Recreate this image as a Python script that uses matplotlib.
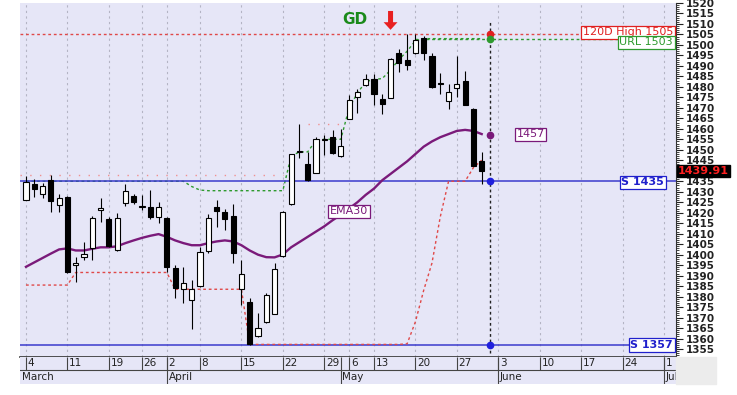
import numpy as np
import matplotlib.pyplot as plt

# daily candles (trading-day index 0 = 4 March)
opens = [1426.3, 1433.6, 1428.7, 1435.5, 1423.9, 1427.5, 1395.0, 1398.8, 1403.4, 1421.2,
         1417.2, 1402.1, 1424.4, 1427.9, 1422.5, 1422.8, 1418.0, 1417.7, 1393.4, 1383.7,
         1378.3, 1385.0, 1401.8, 1422.5, 1420.4, 1418.5, 1383.6, 1377.2, 1361.3, 1368.0,
         1371.7, 1399.3, 1424.0, 1449.0, 1443.1, 1439.0, 1454.5, 1456.1, 1446.9, 1464.9,
         1475.1, 1481.0, 1483.9, 1474.4, 1474.9, 1496.3, 1492.6, 1496.3, 1503.4, 1494.5,
         1481.8, 1473.1, 1479.6, 1482.8, 1469.6, 1444.7]
highs = [1437.5, 1436.3, 1434.4, 1437.9, 1429.1, 1428.0, 1399.0, 1406.0, 1418.2, 1427.0,
         1418.0, 1419.9, 1433.6, 1429.0, 1428.3, 1431.0, 1425.1, 1418.0, 1395.3, 1394.2,
         1388.0, 1403.7, 1419.6, 1426.0, 1422.0, 1424.0, 1397.4, 1379.1, 1372.0, 1381.5,
         1395.8, 1420.6, 1448.2, 1462.5, 1449.0, 1456.0, 1456.9, 1459.6, 1460.1, 1476.0,
         1479.0, 1486.3, 1486.3, 1476.4, 1493.6, 1498.2, 1505.0, 1505.0, 1504.5, 1496.3,
         1486.6, 1481.2, 1494.5, 1487.4, 1470.0, 1449.0]
lows = [1426.0, 1427.5, 1427.0, 1420.4, 1420.4, 1391.2, 1386.8, 1397.4, 1397.6, 1415.6,
        1403.8, 1401.8, 1423.1, 1424.2, 1421.2, 1416.8, 1414.9, 1391.8, 1379.1, 1377.0,
        1364.7, 1384.7, 1400.9, 1413.2, 1411.7, 1396.1, 1376.0, 1357.0, 1360.8, 1367.5,
        1371.5, 1399.0, 1423.8, 1446.0, 1435.0, 1438.7, 1447.4, 1448.2, 1446.5, 1464.5,
        1467.5, 1480.5, 1471.2, 1467.2, 1474.5, 1487.0, 1488.2, 1495.8, 1492.6, 1479.5,
        1476.4, 1469.6, 1475.1, 1471.2, 1442.1, 1433.9]
closes = [1434.7, 1431.2, 1432.8, 1425.6, 1427.1, 1391.5, 1395.8, 1400.1, 1417.7, 1422.3,
          1404.0, 1417.7, 1430.4, 1425.1, 1423.1, 1418.0, 1422.5, 1393.9, 1383.9, 1386.6,
          1383.4, 1401.3, 1417.7, 1420.6, 1416.9, 1400.9, 1390.6, 1357.4, 1365.2, 1381.0,
          1393.0, 1420.4, 1447.9, 1449.5, 1435.5, 1455.0, 1455.3, 1448.7, 1451.7, 1473.6,
          1477.5, 1483.9, 1476.4, 1472.0, 1493.4, 1491.5, 1490.6, 1502.5, 1496.3, 1479.9,
          1481.2, 1477.5, 1481.2, 1471.5, 1442.1, 1439.91]

ema30 = [1394.2, 1396.3, 1398.4, 1400.5, 1402.5, 1403.0, 1402.0, 1402.0, 1402.8, 1403.5,
         1403.5, 1404.0, 1405.5, 1406.8, 1408.0, 1409.0, 1409.8, 1408.5, 1406.8, 1405.5,
         1404.5, 1404.5, 1405.5, 1406.3, 1406.8, 1406.3, 1404.5, 1402.0, 1400.0, 1398.8,
         1398.7, 1400.1, 1403.5, 1406.0, 1408.5, 1411.0, 1413.5, 1416.4, 1419.0, 1422.0,
         1425.0, 1428.5, 1431.5, 1435.5, 1438.5, 1441.5, 1444.5, 1448.0, 1451.5, 1454.0,
         1456.0, 1457.5, 1459.0, 1459.5, 1459.0, 1457.5]

upper_trail = [1435.0] * 20 + [1432.5, 1430.8] + [1430.5] * 10 + \
    [1447.0, 1449.0, 1449.0, 1454.5, 1455.0, 1455.0, 1455.0, 1470.0, 1477.0, 1482.5,
     1483.5, 1484.0, 1488.0, 1493.0, 1497.0, 1502.0] + [1503.0] * 8
lower_trail = [1385.5] * 6 + [1391.5] * 12 + [1383.5] * 9 + [1357.2] * 19 + \
    [1357.5, 1368.0, 1383.0, 1396.0, 1418.0, 1435.0, 1435.0, 1435.0, 1441.5, 1445.0]

high_120d = 1505
url_level = 1503
supports = [1435, 1357]
ema_last = 1457
last_close = 1439.91
now_idx = 56

week_idx = [0, 5, 10, 14, 17, 21, 26, 31, 36, 39, 42, 47, 52, 57, 62, 67, 72, 77]
week_lbl = ["4", "11", "19", "26", "2", "8", "15", "22", "29", "6", "13", "20", "27",
            "3", "10", "17", "24", "1"]
month_idx = [-0.72, 17, 38, 57, 77]
month_lbl = ["March", "April", "May", "June", "July"]

W, H = 737, 395
bg = "#e6e6f7"
fig = plt.figure(figsize=(W / 100, H / 100), dpi=100)
ax = fig.add_axes([20 / W, (H - 357) / H, 656 / W, 354 / H])
axd = fig.add_axes([20 / W, (H - 384) / H, 656 / W, 27 / H])
fig.patches.append(plt.Rectangle((676 / W, (H - 384) / H), 40 / W, 27 / H,
                                 transform=fig.transFigure, color="#ececec"))

xlim = (-0.72, 78.45)
ax.set_facecolor(bg)
ax.set_xlim(*xlim)
ax.set_ylim(1351.2, 1519.8)

# weekly grid
ax.vlines(week_idx, 1351.2, 1519.8, colors="#b4b4c4", linestyles=(0, (2, 3)), lw=0.8, zorder=0)

# level lines
ax.axhline(high_120d, color="#e04848", ls=(0, (2, 2)), lw=1.0, zorder=1)
ax.hlines(url_level, 47, xlim[1], colors="#2e9a2e", linestyles=(0, (2, 2)), lw=1.0, zorder=1)
ax.hlines(1438, xlim[0], 31, colors="#f09090", linestyles=(0, (1, 6)), lw=1.0, zorder=1)
ax.hlines(1462.5, 34, 38, colors="#f09090", linestyles=(0, (1, 6)), lw=1.0, zorder=1)

x = np.arange(len(closes))
ax.plot(x, upper_trail, color="#2e9a2e", ls=(0, (2, 2)), lw=1.0, zorder=1)
ax.plot(x, lower_trail, color="#e04848", ls=(0, (2, 2)), lw=1.0, zorder=1.5)
for s in supports:
    ax.axhline(s, color="#3a3acc", lw=1.1, zorder=1.2)

ax.plot(x, ema30, color="#7a1a7a", lw=1.7, zorder=2)

# candles
o = np.array(opens)
c = np.array(closes)
up = c >= o
body_h = np.maximum(np.abs(c - o), 0.5)
ax.vlines(x, lows, highs, colors="black", lw=0.8, zorder=3)
ax.bar(x[up], body_h[up], bottom=np.minimum(o, c)[up], width=0.62,
       color="white", edgecolor="black", lw=0.8, zorder=4)
ax.bar(x[~up], body_h[~up], bottom=np.minimum(o, c)[~up], width=0.62,
       color="black", edgecolor="black", lw=0.8, zorder=4)

# current bar marker
ax.vlines(now_idx, 1353, 1511.7, colors="#222222", linestyles=(0, (2, 2)), lw=1.0, zorder=5)
for val, col in [(high_120d, "#e02020"), (url_level, "#2e9a2e"), (ema_last, "#7a1a7a"),
                 (supports[0], "#2020dd"), (supports[1], "#2020dd")]:
    ax.plot(now_idx, val, "o", color=col, ms=4.5, zorder=6)

box = dict(boxstyle="square,pad=0.15", fc="white", lw=0.9)
ax.text(78.1, 1506, "120D High 1505", color="#e02020", fontsize=8,
        ha="right", va="center", bbox=dict(box, ec="#e02020"), zorder=7)
ax.text(78.1, 1501.3, "URL 1503", color="#2e9a2e", fontsize=8,
        ha="right", va="center", bbox=dict(box, ec="#2e9a2e"), zorder=7)
ax.text(77.0, 1434.5, "S 1435", color="#2020cc", fontsize=8, fontweight="bold",
        ha="right", va="center", bbox=dict(box, ec="#2020cc"), zorder=7)
ax.text(78.1, 1357, "S 1357", color="#2020cc", fontsize=8, fontweight="bold",
        ha="right", va="center", bbox=dict(box, ec="#2020cc"), zorder=7)
ax.text(60.9, 1457.4, "1457", color="#7a1a7a", fontsize=8,
        ha="center", va="center", bbox=dict(box, ec="#7a1a7a"), zorder=7)
ax.text(39.0, 1420.7, "EMA30", color="#7a1a7a", fontsize=8,
        ha="center", va="center", bbox=dict(box, ec="#7a1a7a"), zorder=7)
ax.text(39.7, 1512, "GD", color="#1a8a1a", fontsize=11, fontweight="bold",
        ha="center", va="center", zorder=7)
ax.annotate("", xy=(44, 1507.2), xytext=(44, 1516.2),
            arrowprops=dict(facecolor="#e82020", edgecolor="none", width=3.6,
                            headwidth=10, headlength=5.5), zorder=7)

# right price axis (1440 sits under the last-price tag)
narrow = ["Liberation Sans Narrow", "DejaVu Sans"]
yt = np.arange(1355, 1521, 5)
ax.yaxis.tick_right()
ax.set_yticks(yt)
ax.set_yticklabels(["" if v == 1440 else str(v) for v in yt])
ax.set_yticks(np.arange(1352, 1520, 1), minor=True)
ax.tick_params(axis="y", which="major", length=5, width=0.8, pad=2, labelsize=7.5,
               colors="#222222")
ax.tick_params(axis="y", which="minor", length=2.5, width=0.6, colors="#222222")
for lab in ax.get_yticklabels():
    lab.set_family(narrow)
    lab.set_fontweight("bold")
ax.text(1.003, last_close, f"{last_close:.2f}", transform=ax.get_yaxis_transform(),
        color="#ff2020", fontsize=8, fontweight="bold", family=narrow,
        ha="left", va="center", clip_on=False, zorder=10,
        bbox=dict(boxstyle="square,pad=0.1", fc="black", ec="black"))
ax.set_xticks([])
for side in ["top", "left"]:
    ax.spines[side].set_visible(False)
ax.spines["right"].set_color("#333333")
ax.spines["bottom"].set_color("#333333")
ax.spines["bottom"].set_linewidth(1.2)

# date strip
axd.set_facecolor(bg)
axd.set_xlim(*xlim)
axd.set_ylim(0, 1)
axd.set_xticks([])
axd.set_yticks([])
for side in ["top", "left", "right", "bottom"]:
    axd.spines[side].set_visible(False)
axd.axhline(0.52, color="#444444", lw=0.8)
axd.vlines(week_idx, 0.52, 1, colors="#444444", lw=0.8)
axd.vlines(month_idx[1:], 0, 1, colors="#444444", lw=0.8)
for i, t in zip(week_idx, week_lbl):
    axd.text(i + 0.2, 0.76, t, fontsize=7.5, color="#222222", ha="left", va="center",
             clip_on=True)
for i, t in zip(month_idx, month_lbl):
    axd.text(i + 0.2, 0.25, t, fontsize=7.5, color="#222222", ha="left", va="center",
             clip_on=True)

fig.savefig("out.png", dpi=100)
